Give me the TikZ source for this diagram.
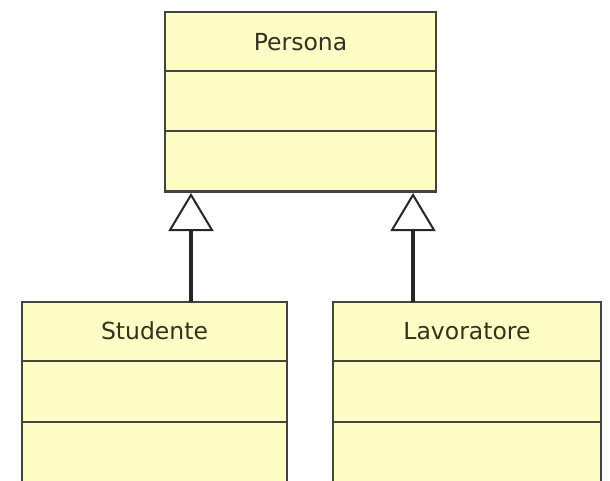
\documentclass[tikz,border=0pt]{standalone}
\usepackage{fontspec}
\setmainfont{DejaVu Sans}
\usetikzlibrary{arrows.meta}
\definecolor{classfill}{HTML}{FFFDC6}
\definecolor{classline}{HTML}{45443A}
\definecolor{classtext}{HTML}{33321F}
\tikzset{
  classbox/.style={draw=classline, fill=classfill, line width=2.5pt, rectangle,
    inner sep=0pt},
  divider/.style={draw=classline, line width=2.5pt},
  classname/.style={text=classtext, font=\fontsize{23.5}{26}\selectfont, inner sep=0pt},
  inherit/.style={draw=black!85, line width=3.5pt,
    -{Triangle[open, width=45pt, length=38pt, line width=2pt]}}
}
\begin{document}
\begin{tikzpicture}[x=1pt, y=-1pt]
  \useasboundingbox[fill=white] (0,0) rectangle (610,481);
  \clip (0,0) rectangle (610,481);

  % superclass
  \node[classbox, minimum width=271pt, minimum height=180pt] (persona) at (300.5,102) {};
  \draw[divider] (165,71) -- (436,71);
  \draw[divider] (165,131) -- (436,131);
  \draw[classline, line width=3.5pt] (165,191.5) -- (436,191.5);
  \node[classname] (personaname) at (300.5,42) {Persona};

  % subclasses
  \node[classbox, minimum width=265pt, minimum height=200pt] (studente) at (154.5,402) {};
  \draw[divider] (22,361) -- (287,361);
  \draw[divider] (22,422) -- (287,422);
  \node[classname] (studentename) at (154.5,331) {Studente};

  \node[classbox, minimum width=268pt, minimum height=200pt] (lavoratore) at (467,402) {};
  \draw[divider] (333,361) -- (601,361);
  \draw[divider] (333,422) -- (601,422);
  \node[classname] (lavoratorename) at (467,331) {Lavoratore};

  % generalisation arrows
  \coordinate (s1) at (191,302);
  \coordinate (p1) at (191,193);
  \coordinate (s2) at (413,302);
  \coordinate (p2) at (413,193);
  \draw[inherit] (s1) -- (p1);
  \draw[inherit] (s2) -- (p2);
\end{tikzpicture}
\end{document}
